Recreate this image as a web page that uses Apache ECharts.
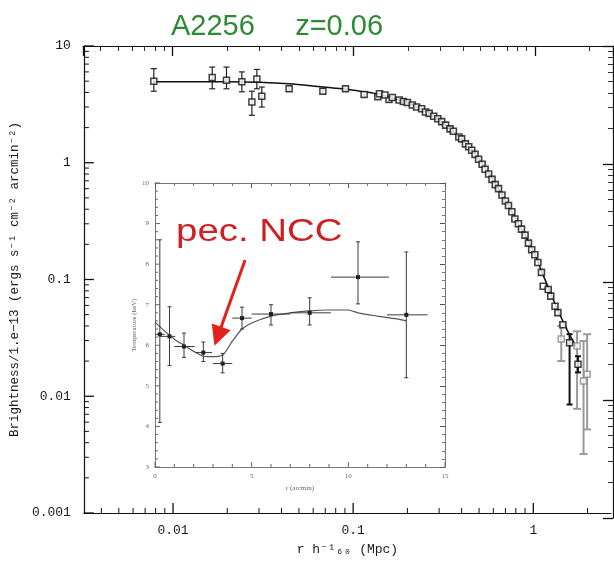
<!DOCTYPE html>
<html>
<head>
<meta charset="utf-8">
<script src="https://cdn.jsdelivr.net/npm/echarts@6/dist/echarts.min.js"></script>
<style>
  html, body { margin: 0; padding: 0; background: #fff; }
  #chart { width: 614px; height: 561px; }
</style>
</head>
<body>
<div id="chart"></div>
<script>
// ---- Surface brightness profile (main panel) ----
// central points with visible error bars
const coreR  = [0.00782, 0.0165, 0.0198, 0.0241, 0.0274, 0.0292, 0.0311, 0.0441, 0.0679, 0.0907, 0.115, 0.137, 0.158];
const coreS  = [4.98, 5.36, 5.08, 4.93, 3.31, 5.22, 3.72, 4.30, 4.10, 4.30, 3.84, 3.68, 3.48];
const coreLo = [4.10, 4.30, 4.30, 4.05, 2.55, 4.30, 3.00, 4.10, 3.92, 4.12, 3.70, 3.55, 3.36];
const coreHi = [6.40, 6.60, 6.60, 6.00, 4.10, 6.30, 4.45, 4.52, 4.30, 4.50, 4.00, 3.82, 3.60];

// outer points along the steep part
const outerR = [0.14, 0.15, 0.165, 0.18, 0.19, 0.2, 0.213, 0.225, 0.24, 0.252, 0.264, 0.28, 0.295, 0.31,
                0.326, 0.345, 0.36, 0.386, 0.40, 0.42, 0.438, 0.455, 0.475, 0.497, 0.52, 0.54, 0.565,
                0.59, 0.615, 0.641, 0.67, 0.70, 0.728, 0.76, 0.79, 0.827, 0.86, 0.9, 0.94, 0.98, 1.02,
                1.06, 1.11, 1.135, 1.21, 1.25, 1.32, 1.37, 1.46];
const outerS = [3.90, 3.80, 3.62, 3.45, 3.35, 3.28, 3.12, 3.00, 2.90, 2.72, 2.65, 2.50, 2.38, 2.25,
                2.10, 1.95, 1.86, 1.66, 1.60, 1.45, 1.37, 1.28, 1.18, 1.07, 0.97, 0.88, 0.80,
                0.72, 0.65, 0.60, 0.53, 0.47, 0.43, 0.38, 0.33, 0.30, 0.27, 0.24, 0.205, 0.18, 0.163,
                0.14, 0.115, 0.0875, 0.082, 0.072, 0.059, 0.052, 0.041];

// faint-signal points at large radius
const tailBlackR  = [1.59, 1.77];
const tailBlackS  = [0.0287, 0.0188];
const tailBlackLo = [0.0085, 0.016];
const tailBlackHi = [0.034, 0.022];
const tailGrayR   = [1.43, 1.75, 1.90, 1.99];
const tailGrayS   = [0.031, 0.027, 0.0135, 0.0154];
const tailGrayLo  = [0.020, 0.0078, 0.0032, 0.0052];
const tailGrayHi  = [0.040, 0.036, 0.0297, 0.034];

// fitted profile
const modelR = [0.0078, 0.02, 0.03, 0.044, 0.068, 0.09, 0.115, 0.14, 0.18, 0.213, 0.264, 0.326, 0.386,
                0.438, 0.497, 0.565, 0.641, 0.728, 0.827, 0.9, 1.02, 1.11, 1.21, 1.32, 1.46, 1.6, 1.75];
const modelS = [4.95, 4.95, 4.9, 4.75, 4.45, 4.28, 4.05, 3.85, 3.45, 3.15, 2.65, 2.1, 1.68,
                1.38, 1.09, 0.82, 0.60, 0.43, 0.30, 0.24, 0.165, 0.118, 0.086, 0.062, 0.044, 0.033, 0.026];

// ---- Temperature profile (inset) ----
const tR   = [0.25, 0.75, 1.5, 2.5, 3.5, 4.5, 6.0, 8.0, 10.5, 13.0];
const tRlo = [0.0, 0.25, 1.0, 2.1, 3.0, 4.0, 5.0, 7.0, 9.1, 12.0];
const tRhi = [0.5, 1.05, 2.05, 2.95, 4.0, 5.0, 7.0, 9.1, 12.1, 14.1];
const tT   = [6.27, 6.22, 5.97, 5.82, 5.55, 6.67, 6.77, 6.80, 7.68, 6.75];
const tTlo = [4.10, 5.50, 5.70, 5.60, 5.32, 6.40, 6.50, 6.50, 7.02, 5.20];
const tThi = [8.60, 6.95, 6.30, 6.08, 5.80, 6.94, 7.00, 7.17, 8.55, 8.30];

const tModelR = [0, 0.5, 1, 1.5, 2, 2.5, 3, 3.5, 4, 4.5, 5, 6, 7, 8, 9, 10, 10.5, 11.5, 12.5, 13];
const tModelT = [6.57, 6.35, 6.15, 6.0, 5.85, 5.73, 5.72, 5.76, 6.1, 6.4, 6.55, 6.72, 6.8, 6.85, 6.87, 6.87, 6.8, 6.72, 6.65, 6.6];

// annotation arrow (inset data units): tail, head
const arrowFrom = [4.66, 8.10];
const arrowTo   = [3.25, 6.22];

// tick positions for the bottom/left frame edges
const xDecades = [0.001, 0.01, 0.1, 1];
const yDecades = [0.001, 0.01, 0.1, 1];
const insetXMajor = [0, 5, 10, 15];
const insetYMajor = [3, 4, 5, 6, 7, 8, 9, 10];

const MONO = '"Liberation Mono", "DejaVu Sans Mono", monospace';
const SERIF = '"Liberation Serif", serif';

const X_MAIN = { min: 0.0032, max: 2.7 };
const Y_MAIN = { min: 0.001, max: 10 };
const X_INSET = { min: 0, max: 15, interval: 5 };
const Y_INSET = { min: 3, max: 10, interval: 1 };

function zip(...cols) {
  return cols[0].map((_, i) => cols.map(c => c[i]));
}

// decade ticks (long) plus 2..9 sub-ticks (short), inside [lo, hi]
function logTickList(decades, lo, hi) {
  const out = [];
  decades.forEach(d => {
    if (d >= lo && d <= hi) out.push([d, 10]);
    for (let m = 2; m <= 9; m++) {
      const v = +(d * m).toPrecision(3);
      if (v > lo && v < hi) out.push([v, 5]);
    }
  });
  if (hi >= 10 && decades.indexOf(10) < 0) out.push([10, 10]);
  return out;
}
function linTickList(majors, step, lo, hi) {
  const out = [];
  const n = Math.round((hi - lo) / step);
  for (let i = 0; i <= n; i++) {
    const v = +(lo + i * step).toFixed(4);
    const isMajor = majors.some(m => Math.abs(m - v) < 1e-6);
    out.push([v, isMajor ? 5 : 3]);
  }
  return out;
}

function xTickRender(yEdge, color) {
  return function (params, api) {
    const p = api.coord([api.value(0), yEdge]);
    const len = api.value(1);
    return { type: 'line', shape: { x1: p[0], y1: p[1], x2: p[0], y2: p[1] - len },
             style: { stroke: color, lineWidth: len >= 5 && len > 3 && len !== 5 ? 1.3 : 1 } };
  };
}
function yTickRender(xEdge, color) {
  return function (params, api) {
    const p = api.coord([xEdge, api.value(0)]);
    const len = api.value(1);
    return { type: 'line', shape: { x1: p[0], y1: p[1], x2: p[0] + len, y2: p[1] },
             style: { stroke: color, lineWidth: len === 10 ? 1.3 : 1 } };
  };
}

function vErrBars(color, cap, width) {
  return function (params, api) {
    const x = api.value(0), lo = api.value(2), hi = api.value(3);
    const a = api.coord([x, lo]), b = api.coord([x, hi]);
    const style = { stroke: color, lineWidth: width };
    return {
      type: 'group',
      children: [
        { type: 'line', shape: { x1: a[0], y1: a[1], x2: b[0], y2: b[1] }, style },
        { type: 'line', shape: { x1: a[0] - cap, y1: a[1], x2: a[0] + cap, y2: a[1] }, style },
        { type: 'line', shape: { x1: b[0] - cap, y1: b[1], x2: b[0] + cap, y2: b[1] }, style }
      ]
    };
  };
}

function xyErrBars(params, api) {
  const r = api.value(0), t = api.value(1);
  const r0 = api.value(2), r1 = api.value(3), t0 = api.value(4), t1 = api.value(5);
  const h0 = api.coord([r0, t]), h1 = api.coord([r1, t]);
  const v0 = api.coord([r, t0]), v1 = api.coord([r, t1]);
  const c = api.coord([r, t]);
  const style = { stroke: '#3a3a3a', lineWidth: 1 };
  return {
    type: 'group',
    children: [
      { type: 'line', shape: { x1: h0[0], y1: h0[1], x2: h1[0], y2: h1[1] }, style },
      { type: 'line', shape: { x1: v0[0], y1: v0[1], x2: v1[0], y2: v1[1] }, style },
      { type: 'line', shape: { x1: v0[0] - 2, y1: v0[1], x2: v0[0] + 2, y2: v0[1] }, style },
      { type: 'line', shape: { x1: v1[0] - 2, y1: v1[1], x2: v1[0] + 2, y2: v1[1] }, style },
      { type: 'rect', shape: { x: c[0] - 2, y: c[1] - 2, width: 4, height: 4 }, style: { fill: '#222' } }
    ]
  };
}

function isDecade(v) {
  const l = Math.log10(v);
  return Math.abs(l - Math.round(l)) < 1e-6;
}

// main frame: labelled axes carry line, labels and names; tick-only axes carry the top/right tick marks
function logAxis(extra) {
  return Object.assign({
    type: 'log',
    logBase: 10,
    axisLine: { show: true, onZero: false, lineStyle: { color: '#111', width: 1.2 } },
    axisTick: { show: false },
    minorTick: { show: false },
    splitLine: { show: false }
  }, extra);
}
function logTickAxis(extra) {
  return logAxis(Object.assign({
    axisLabel: { show: false },
    axisTick: { show: true, inside: true, length: 10, lineStyle: { color: '#111', width: 1.3 } },
    minorTick: { show: true, splitNumber: 9, length: 5, lineStyle: { color: '#333', width: 1 } }
  }, extra));
}

const mainLabel = {
  fontFamily: MONO, fontSize: 13, color: '#1a1a1a',
  formatter: v => (isDecade(v) ? String(+v.toPrecision(3)) : '')
};

function insetAxis(extra) {
  return Object.assign({
    type: 'value',
    axisLine: { show: true, onZero: false, lineStyle: { color: '#777', width: 1 } },
    axisTick: { show: false },
    minorTick: { show: false },
    splitLine: { show: false }
  }, extra);
}
function insetTickAxis(extra) {
  return insetAxis(Object.assign({
    axisLabel: { show: false },
    axisTick: { show: true, inside: true, length: 5, lineStyle: { color: '#555' } },
    minorTick: { show: true, splitNumber: 5, length: 3, lineStyle: { color: '#777' } }
  }, extra));
}
const insetLabel = { fontFamily: SERIF, fontSize: 7, color: '#666', margin: 6 };

const MAIN_RECT = { left: 83, top: 46, right: 1, bottom: 43 };
const INSET_RECT = { left: 155, top: 183, width: 290, height: 284 };

const chart = echarts.init(document.getElementById('chart'), null, { renderer: 'canvas' });

chart.setOption({
  animation: false,
  backgroundColor: '#fff',
  title: {
    text: 'A2256     z=0.06',
    left: 166, top: 7,
    textStyle: { fontFamily: '"Liberation Sans", Arial, sans-serif', fontSize: 29, fontWeight: 'normal', color: '#2e8b34' }
  },
  grid: [
    Object.assign({}, MAIN_RECT),                                                       // 0 main, labelled
    Object.assign({ show: true, backgroundColor: '#fff', borderWidth: 0 }, INSET_RECT), // 1 inset, labelled
    Object.assign({}, MAIN_RECT),                                                       // 2 main ticks top/right
    Object.assign({}, INSET_RECT)                                                       // 3 inset ticks top/right
  ],
  xAxis: [
    logAxis(Object.assign({
      gridIndex: 0, position: 'bottom',
      axisLabel: Object.assign({ margin: 11 }, mainLabel),
      name: 'r h\u207B\u00B9\u2086\u2080 (Mpc)', nameLocation: 'middle', nameGap: 30,
      nameTextStyle: { fontFamily: MONO, fontSize: 13, color: '#1a1a1a' }
    }, X_MAIN)),
    insetAxis(Object.assign({
      gridIndex: 1, position: 'bottom',
      axisLabel: insetLabel,
      name: 'r (arcmin)', nameLocation: 'middle', nameGap: 17,
      nameTextStyle: { fontFamily: SERIF, fontSize: 7, color: '#666' }
    }, X_INSET)),
    logTickAxis(Object.assign({ gridIndex: 2, position: 'top' }, X_MAIN)),
    insetTickAxis(Object.assign({ gridIndex: 3, position: 'top' }, X_INSET))
  ],
  yAxis: [
    logAxis(Object.assign({
      gridIndex: 0, position: 'left',
      axisLabel: Object.assign({ margin: 13 }, mainLabel),
      name: 'Brightness/1.e\u221213 (ergs s\u207B\u00B9 cm\u207B\u00B2 arcmin\u207B\u00B2)',
      nameLocation: 'middle', nameGap: 61,
      nameTextStyle: { fontFamily: MONO, fontSize: 12.5, color: '#1a1a1a' }
    }, Y_MAIN)),
    insetAxis(Object.assign({
      gridIndex: 1, position: 'left',
      axisLabel: insetLabel,
      name: 'Temperature (keV)', nameLocation: 'middle', nameGap: 14,
      nameTextStyle: { fontFamily: SERIF, fontSize: 7, color: '#666' }
    }, Y_INSET)),
    logTickAxis(Object.assign({ gridIndex: 2, position: 'right' }, Y_MAIN)),
    insetTickAxis(Object.assign({ gridIndex: 3, position: 'right' }, Y_INSET))
  ],
  series: [
    // bottom / left frame ticks, placed through the axis scales
    {
      name: 'x frame ticks', type: 'custom', xAxisIndex: 0, yAxisIndex: 0, silent: true, z: 6,
      encode: { x: 0 },
      renderItem: xTickRender(Y_MAIN.min, '#111'),
      data: logTickList(xDecades, X_MAIN.min, X_MAIN.max)
    },
    {
      name: 'y frame ticks', type: 'custom', xAxisIndex: 0, yAxisIndex: 0, silent: true, z: 6,
      encode: { y: 0 },
      renderItem: yTickRender(X_MAIN.min, '#111'),
      data: logTickList(yDecades, Y_MAIN.min, Y_MAIN.max)
    },
    {
      name: 'inset x ticks', type: 'custom', xAxisIndex: 1, yAxisIndex: 1, silent: true, z: 12,
      encode: { x: 0 },
      renderItem: xTickRender(Y_INSET.min, '#666'),
      data: linTickList(insetXMajor, 1, X_INSET.min, X_INSET.max)
    },
    {
      name: 'inset y ticks', type: 'custom', xAxisIndex: 1, yAxisIndex: 1, silent: true, z: 12,
      encode: { y: 0 },
      renderItem: yTickRender(X_INSET.min, '#666'),
      data: linTickList(insetYMajor, 0.2, Y_INSET.min, Y_INSET.max)
    },
    {
      name: 'model', type: 'line', xAxisIndex: 0, yAxisIndex: 0,
      data: zip(modelR, modelS), showSymbol: false, smooth: 0.3,
      lineStyle: { color: '#111', width: 1.5 }, z: 2
    },
    {
      name: 'core errors', type: 'custom', xAxisIndex: 0, yAxisIndex: 0,
      renderItem: vErrBars('#222', 3, 1.2), data: zip(coreR, coreS, coreLo, coreHi), z: 3
    },
    {
      name: 'tail errors gray', type: 'custom', xAxisIndex: 0, yAxisIndex: 0,
      renderItem: vErrBars('#9a9a9a', 4, 2), data: zip(tailGrayR, tailGrayS, tailGrayLo, tailGrayHi), z: 3
    },
    {
      name: 'tail errors black', type: 'custom', xAxisIndex: 0, yAxisIndex: 0,
      renderItem: vErrBars('#111', 3, 2), data: zip(tailBlackR, tailBlackS, tailBlackLo, tailBlackHi), z: 3
    },
    {
      name: 'core', type: 'scatter', xAxisIndex: 0, yAxisIndex: 0,
      data: zip(coreR, coreS), symbol: 'rect', symbolSize: 6,
      itemStyle: { color: '#fff', borderColor: '#111', borderWidth: 1.5 }, z: 4
    },
    {
      name: 'outer', type: 'scatter', xAxisIndex: 0, yAxisIndex: 0,
      data: zip(outerR, outerS), symbol: 'rect', symbolSize: 6,
      itemStyle: { color: '#fff', borderColor: '#111', borderWidth: 1.6 }, z: 4
    },
    {
      name: 'tail gray', type: 'scatter', xAxisIndex: 0, yAxisIndex: 0,
      data: zip(tailGrayR, tailGrayS), symbol: 'rect', symbolSize: 6,
      itemStyle: { color: '#fff', borderColor: '#888', borderWidth: 1.5 }, z: 4
    },
    {
      name: 'tail black', type: 'scatter', xAxisIndex: 0, yAxisIndex: 0,
      data: zip(tailBlackR, tailBlackS), symbol: 'rect', symbolSize: 6,
      itemStyle: { color: '#fff', borderColor: '#111', borderWidth: 1.5 }, z: 4
    },
    // inset: temperature profile
    {
      name: 'T model', type: 'line', xAxisIndex: 1, yAxisIndex: 1,
      data: zip(tModelR, tModelT), showSymbol: false, smooth: 0.25,
      lineStyle: { color: '#555', width: 1.2 }, z: 10,
      markLine: {
        silent: true,
        symbol: ['none', 'triangle'],
        symbolSize: 20,
        label: { show: false },
        lineStyle: { color: '#e3201b', width: 3, type: 'solid' },
        data: [[{ coord: arrowFrom }, { coord: arrowTo }]]
      }
    },
    {
      name: 'T data', type: 'custom', xAxisIndex: 1, yAxisIndex: 1,
      renderItem: xyErrBars, data: zip(tR, tT, tRlo, tRhi, tTlo, tThi), z: 11
    }
  ],
  graphic: [
    {
      type: 'text', x: 176, y: 232, scaleX: 1.24, z: 100,
      style: {
        text: 'pec. NCC', fill: '#cf1f22',
        font: '31px "Liberation Sans", Arial, sans-serif',
        verticalAlign: 'middle', align: 'left'
      }
    }
  ]
});
</script>
</body>
</html>
